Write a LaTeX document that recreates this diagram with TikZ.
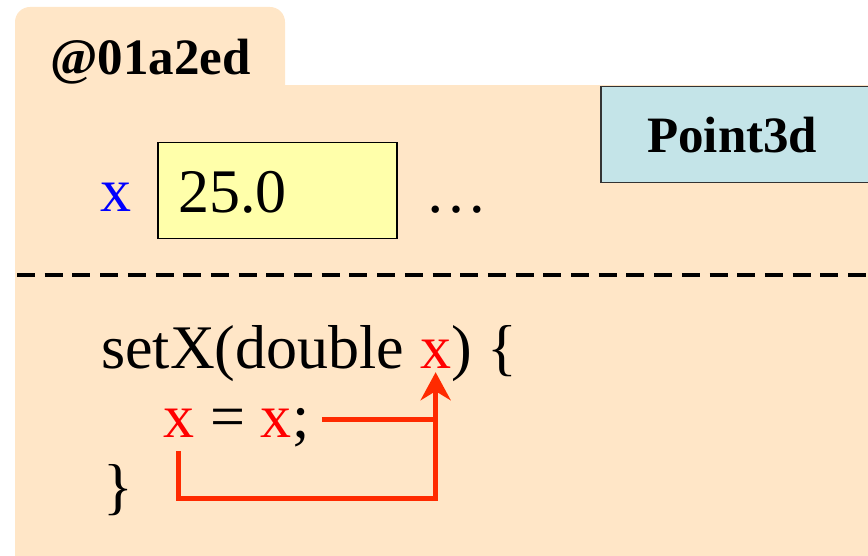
\documentclass[tikz,border=0pt]{standalone}
\usepackage{fontspec}
\setmainfont{Liberation Serif}
\usetikzlibrary{arrows.meta}
\definecolor{peach}{HTML}{FFE6C7}
\definecolor{clsblue}{HTML}{C4E4E8}
\definecolor{valyellow}{HTML}{FFFFAA}
\definecolor{arrowred}{HTML}{FF2A00}
\definecolor{txtred}{HTML}{FF0000}
\definecolor{txtblue}{HTML}{0000FF}
\begin{document}
\begin{tikzpicture}[x=1pt,y=-1pt,
  code/.style={anchor=base west,inner sep=0pt,font=\fontsize{62}{70}\selectfont},
  label/.style={anchor=base west,inner sep=0pt,font=\fontsize{51}{60}\selectfont\bfseries},
  redline/.style={draw=arrowred,line width=5pt,line join=miter},
  boxline/.style={line width=1.5pt}]
\useasboundingbox (0,0) rectangle (868,556);
% object shape: tab and body
\fill[peach,rounded corners=15pt] (15,110) -- (15,7) -- (285,7) -- (285,110) -- cycle;
\fill[peach] (15,85) rectangle (868,556);
\node[label] (addr) at (50,75) {@01a2ed};
% class box
\node[draw=black!80,fill=clsblue,boxline,anchor=north west,minimum width=280pt,minimum height=96pt,inner sep=0pt] (cls) at (600,86) {};
\node[label] (clsname) at (647,153) {Point3d};
% field
\node[code,text=txtblue] (fx) at (100,212) {x};
\node[draw=black,fill=valyellow,boxline,anchor=north west,minimum width=239pt,minimum height=96pt,inner sep=0pt] (val) at (157,142) {};
\node[code] (valtxt) at (178,213) {25.0};
\node[code] (dots) at (425,213) {…};
% separator
\coordinate (sepL) at (15,275);
\coordinate (sepR) at (870,275);
\draw[line width=4pt,dash pattern=on 18pt off 9.7pt] ([xshift=2pt]sepL) -- (sepR);
% method
\node[code] (m1) at (101,368) {setX(double\ \mbox{}};
\node[code,text=txtred] (param) at (m1.base east) {x};
\node[code] (m1c) at (param.base east) {\mbox{})\ \{};
\node[code,text=txtred] (lhs) at (163,437) {x};
\node[code] (eq) at (lhs.base east) {\mbox{}\ =\ \mbox{}};
\node[code,text=txtred] (rhs) at (eq.base east) {x};
\node[code] (semi) at (rhs.base east) {;};
\node[code] (close) at (103,507) {\}};
% arrows
\coordinate (s1) at ([xshift=12pt,yshift=18pt]semi.base east);
\draw[redline] (s1) -- (s1 -| param.south);
\draw[redline,-{Stealth[length=28pt,width=30pt,inset=9pt]}]
  ([yshift=-14pt]lhs.south) -- ++(0,47) -| ([yshift=-4pt]param.south);
\end{tikzpicture}
\end{document}
